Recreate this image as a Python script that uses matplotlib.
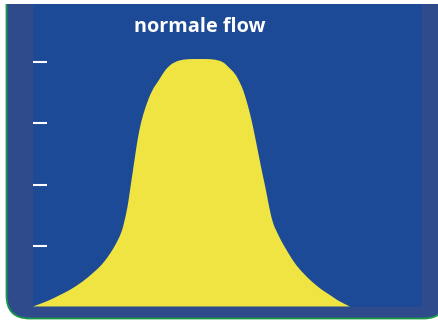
import matplotlib
matplotlib.use("Agg")
import matplotlib.pyplot as plt
from matplotlib.patches import FancyBboxPatch, PathPatch
from matplotlib.path import Path

# Curve outline: x in % of panel width, y in tick units
# (left flank going up, then right flank coming down)
curve_x = [0.00, 2.24, 4.37, 6.95, 9.52, 12.79, 15.44, 17.67, 19.30, 20.71,
           21.87, 22.82, 23.41, 24.36, 24.96, 25.60, 26.24, 26.88, 27.71, 28.94,
           30.62, 32.16, 33.44, 34.73, 36.53, 38.59,
           40.65, 42.96, 45.02,
           46.82, 48.88, 50.17, 51.97, 53.13, 54.10, 55.39, 56.42, 57.29, 58.14,
           58.99, 59.94, 60.72, 61.69, 62.72, 63.73, 64.96, 66.25, 67.66, 69.46,
           71.70, 74.35, 76.41, 78.21, 79.83, 81.56]
curve_y = [0.000, 0.052, 0.107, 0.189, 0.270, 0.407, 0.549, 0.680, 0.816, 0.954,
           1.090, 1.226, 1.364, 1.636, 1.910, 2.184, 2.456, 2.730, 3.003, 3.275,
           3.549, 3.685, 3.823, 3.931, 4.013, 4.049,
           4.057, 4.057, 4.057,
           4.049, 4.013, 3.931, 3.823, 3.685, 3.549, 3.275, 3.003, 2.730, 2.456,
           2.184, 1.910, 1.636, 1.364, 1.226, 1.090, 0.954, 0.816, 0.680, 0.549,
           0.407, 0.270, 0.189, 0.107, 0.052, 0.000]
tick_levels = [1, 2, 3, 4]
title = "normale flow"

PANEL_BLUE = "#1c4a96"
CARD_BLUE = "#2f4b8b"
YELLOW = "#f0e443"
GREEN = "#1a9a48"


def smooth_outline(xs, ys):
    """Quadratic B-spline path through the read points (matplotlib draws the curves)."""
    pts = list(zip(xs, ys))
    verts = [pts[0]]
    codes = [Path.MOVETO]
    for i in range(1, len(pts) - 1):
        mid = ((pts[i][0] + pts[i + 1][0]) / 2, (pts[i][1] + pts[i + 1][1]) / 2)
        verts += [pts[i], mid]
        codes += [Path.CURVE3, Path.CURVE3]
    verts += [pts[-1], pts[0]]
    codes += [Path.LINETO, Path.CLOSEPOLY]
    return Path(verts, codes)


W, H = 439, 321
fig = plt.figure(figsize=(W / 100, H / 100), dpi=100)
fig.patch.set_facecolor("white")

# card behind the panel, pixel coordinates, top corners cut off by the axes
bg = fig.add_axes([0, 0, 1, (H - 4) / H])
bg.set_xlim(0, W)
bg.set_ylim(H, 4)
bg.axis("off")
card = FancyBboxPatch((6.5, -60), 440, 378.5,
                      boxstyle="round,pad=0,rounding_size=23",
                      facecolor=CARD_BLUE, edgecolor=GREEN, linewidth=1.3)
bg.add_patch(card)

# inner panel
left, right, top, bottom = 33, 421.7, 4, 306.5
ax = fig.add_axes([left / W, (H - bottom) / H, (right - left) / W, (bottom - top) / H])
ax.set_facecolor(PANEL_BLUE)
ax.set_xlim(0, 100)
ax.set_ylim(0, (bottom - top) / 61)
for s in ax.spines.values():
    s.set_visible(False)

ax.add_patch(PathPatch(smooth_outline(curve_x, curve_y), facecolor=YELLOW,
                       edgecolor="none"))

ax.set_xticks([])
ax.set_yticks(tick_levels)
ax.set_yticklabels([])
ax.tick_params(axis="y", direction="in", length=10, width=1.5, color="white", pad=0)

ax.text(0.43, 0.925, title, transform=ax.transAxes, ha="center", va="center",
        color="white", fontsize=14.3, fontweight="bold", family="Open Sans")

fig.savefig("out.png", dpi=100)
